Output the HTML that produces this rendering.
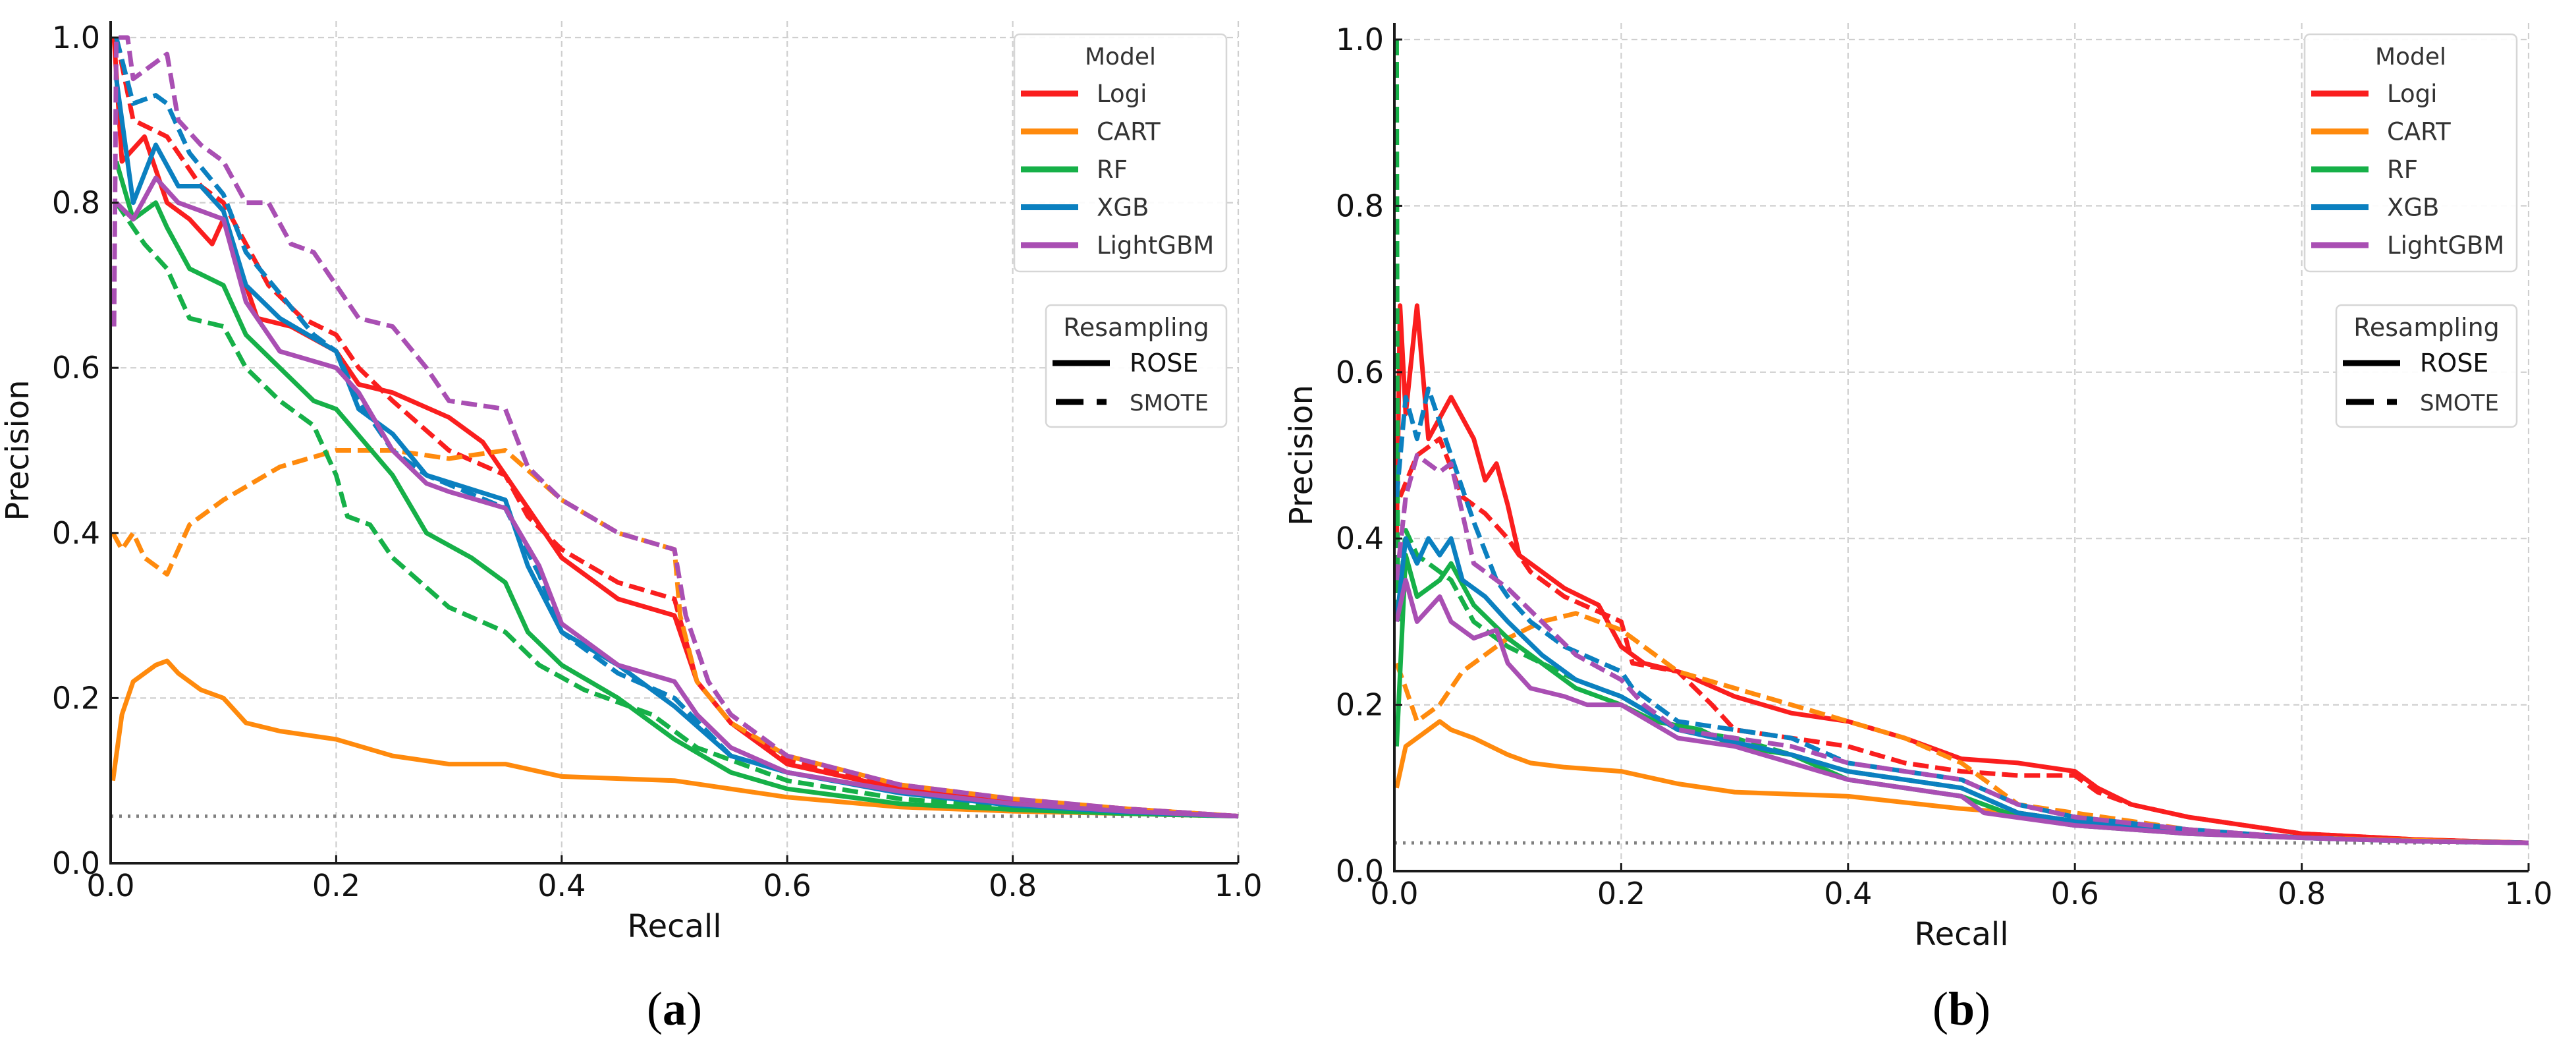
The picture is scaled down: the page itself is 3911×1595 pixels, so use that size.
<!DOCTYPE html>
<html><head><meta charset="utf-8">
<style>
html,body{margin:0;padding:0;background:#fff;}
svg{display:block;font-family:"DejaVu Sans","Liberation Sans",sans-serif;}
</style></head>
<body>
<svg id="fig" width="3911" height="1595" viewBox="0 0 3911 1595" xmlns="http://www.w3.org/2000/svg"></svg>
<script>
// ---------- data ----------
const xTicks = [0, 0.2, 0.4, 0.6, 0.8, 1.0];
const yTicks = [0, 0.2, 0.4, 0.6, 0.8, 1.0];
const tickLabels = ["0.0","0.2","0.4","0.6","0.8","1.0"];
const models = ["Logi","CART","RF","XGB","LightGBM"];
const modelColors = ["#fa1e1e","#ff8a0d","#16b048","#0b80c0","#a94fb3"];
const baselineA = 0.057;
const baselineB = 0.034;

// Panel (a) [recall, precision]
const aLogiRose = [[0.003,1.0],[0.01,0.85],[0.03,0.88],[0.05,0.8],[0.07,0.78],[0.09,0.75],[0.1,0.78],[0.12,0.7],[0.13,0.66],[0.16,0.65],[0.2,0.62],[0.22,0.58],[0.25,0.57],[0.3,0.54],[0.33,0.51],[0.36,0.45],[0.4,0.37],[0.45,0.32],[0.5,0.3],[0.52,0.22],[0.55,0.17],[0.6,0.12],[0.7,0.09],[0.8,0.075],[0.9,0.065],[1.0,0.057]];
const aLogiSmote = [[0.005,1.0],[0.02,0.9],[0.05,0.88],[0.08,0.82],[0.1,0.8],[0.12,0.75],[0.14,0.7],[0.17,0.66],[0.2,0.64],[0.22,0.6],[0.25,0.56],[0.3,0.5],[0.35,0.47],[0.37,0.42],[0.4,0.38],[0.45,0.34],[0.5,0.32],[0.52,0.22],[0.55,0.17],[0.6,0.125],[0.7,0.095],[0.8,0.077],[0.9,0.066],[1.0,0.057]];
const aCartRose = [[0.002,0.1],[0.01,0.18],[0.02,0.22],[0.04,0.24],[0.05,0.245],[0.06,0.23],[0.08,0.21],[0.1,0.2],[0.12,0.17],[0.15,0.16],[0.2,0.15],[0.25,0.13],[0.3,0.12],[0.35,0.12],[0.4,0.105],[0.5,0.1],[0.6,0.08],[0.7,0.068],[0.8,0.063],[0.9,0.06],[1.0,0.057]];
const aCartSmote = [[0.002,0.4],[0.01,0.38],[0.02,0.4],[0.03,0.37],[0.05,0.35],[0.07,0.41],[0.1,0.44],[0.15,0.48],[0.2,0.5],[0.25,0.5],[0.3,0.49],[0.35,0.5],[0.4,0.44],[0.45,0.4],[0.5,0.38],[0.505,0.3],[0.52,0.22],[0.55,0.17],[0.6,0.13],[0.7,0.095],[0.8,0.078],[0.9,0.066],[1.0,0.057]];
const aRfRose = [[0.005,0.85],[0.02,0.78],[0.04,0.8],[0.05,0.77],[0.07,0.72],[0.1,0.7],[0.12,0.64],[0.15,0.6],[0.18,0.56],[0.2,0.55],[0.25,0.47],[0.28,0.4],[0.32,0.37],[0.35,0.34],[0.37,0.28],[0.4,0.24],[0.45,0.2],[0.5,0.15],[0.55,0.11],[0.6,0.09],[0.7,0.072],[0.8,0.065],[0.9,0.06],[1.0,0.057]];
const aRfSmote = [[0.005,0.8],[0.03,0.75],[0.05,0.72],[0.07,0.66],[0.1,0.65],[0.12,0.6],[0.15,0.56],[0.18,0.53],[0.2,0.47],[0.21,0.42],[0.23,0.41],[0.25,0.37],[0.3,0.31],[0.35,0.28],[0.38,0.24],[0.42,0.21],[0.48,0.18],[0.52,0.14],[0.6,0.1],[0.7,0.078],[0.8,0.068],[0.9,0.061],[1.0,0.057]];
const aXgbRose = [[0.005,0.95],[0.02,0.8],[0.04,0.87],[0.06,0.82],[0.08,0.82],[0.1,0.79],[0.12,0.7],[0.15,0.66],[0.2,0.62],[0.22,0.55],[0.25,0.52],[0.28,0.47],[0.35,0.44],[0.37,0.36],[0.4,0.28],[0.45,0.24],[0.5,0.19],[0.55,0.13],[0.6,0.11],[0.7,0.085],[0.8,0.07],[0.9,0.062],[1.0,0.057]];
const aXgbSmote = [[0.005,1.0],[0.02,0.92],[0.04,0.93],[0.05,0.92],[0.07,0.86],[0.1,0.81],[0.12,0.74],[0.15,0.69],[0.18,0.64],[0.2,0.62],[0.22,0.56],[0.25,0.5],[0.28,0.47],[0.35,0.43],[0.38,0.35],[0.4,0.28],[0.45,0.23],[0.5,0.2],[0.55,0.13],[0.6,0.11],[0.7,0.086],[0.8,0.071],[0.9,0.062],[1.0,0.057]];
const aLgbmRose = [[0.005,0.8],[0.02,0.78],[0.04,0.83],[0.06,0.8],[0.08,0.79],[0.1,0.78],[0.12,0.68],[0.15,0.62],[0.2,0.6],[0.22,0.57],[0.25,0.5],[0.28,0.46],[0.3,0.45],[0.35,0.43],[0.38,0.36],[0.4,0.29],[0.45,0.24],[0.5,0.22],[0.52,0.18],[0.55,0.14],[0.6,0.11],[0.7,0.087],[0.8,0.072],[0.9,0.063],[1.0,0.057]];
const aLgbmSmote = [[0.003,0.65],[0.005,1.0],[0.015,1.0],[0.02,0.95],[0.05,0.98],[0.06,0.9],[0.08,0.87],[0.1,0.85],[0.12,0.8],[0.14,0.8],[0.16,0.75],[0.18,0.74],[0.2,0.7],[0.22,0.66],[0.25,0.65],[0.28,0.6],[0.3,0.56],[0.35,0.55],[0.37,0.48],[0.4,0.44],[0.45,0.4],[0.5,0.38],[0.51,0.3],[0.53,0.22],[0.55,0.18],[0.6,0.13],[0.7,0.095],[0.8,0.078],[0.9,0.066],[1.0,0.057]];

// Panel (b)
const bLogiRose = [[0.002,0.4],[0.005,0.68],[0.01,0.55],[0.02,0.68],[0.03,0.52],[0.05,0.57],[0.07,0.52],[0.08,0.47],[0.09,0.49],[0.1,0.44],[0.11,0.38],[0.13,0.36],[0.15,0.34],[0.18,0.32],[0.2,0.27],[0.22,0.25],[0.25,0.24],[0.3,0.21],[0.35,0.19],[0.4,0.18],[0.45,0.16],[0.5,0.135],[0.55,0.13],[0.6,0.12],[0.62,0.1],[0.65,0.08],[0.7,0.065],[0.8,0.045],[0.9,0.038],[1.0,0.034]];
const bLogiSmote = [[0.005,0.45],[0.02,0.5],[0.04,0.52],[0.06,0.45],[0.08,0.43],[0.1,0.4],[0.12,0.36],[0.15,0.33],[0.2,0.3],[0.21,0.25],[0.25,0.24],[0.28,0.2],[0.3,0.17],[0.35,0.16],[0.4,0.15],[0.45,0.13],[0.5,0.12],[0.55,0.115],[0.6,0.115],[0.62,0.095],[0.65,0.08],[0.7,0.065],[0.8,0.045],[0.9,0.038],[1.0,0.034]];
const bCartRose = [[0.002,0.1],[0.01,0.15],[0.02,0.16],[0.04,0.18],[0.05,0.17],[0.07,0.16],[0.1,0.14],[0.12,0.13],[0.15,0.125],[0.2,0.12],[0.25,0.105],[0.3,0.095],[0.4,0.09],[0.5,0.075],[0.55,0.07],[0.6,0.06],[0.7,0.048],[0.8,0.04],[0.9,0.037],[1.0,0.034]];
const bCartSmote = [[0.002,0.25],[0.01,0.22],[0.02,0.18],[0.04,0.2],[0.06,0.24],[0.1,0.28],[0.13,0.3],[0.16,0.31],[0.2,0.29],[0.25,0.24],[0.3,0.22],[0.35,0.2],[0.4,0.18],[0.45,0.16],[0.5,0.13],[0.55,0.08],[0.6,0.07],[0.7,0.05],[0.8,0.04],[0.9,0.037],[1.0,0.034]];
const bRfRose = [[0.002,0.15],[0.01,0.38],[0.02,0.33],[0.04,0.35],[0.05,0.37],[0.07,0.32],[0.1,0.28],[0.13,0.25],[0.16,0.22],[0.2,0.2],[0.23,0.18],[0.27,0.17],[0.3,0.15],[0.35,0.14],[0.4,0.11],[0.45,0.1],[0.5,0.09],[0.55,0.065],[0.6,0.055],[0.7,0.045],[0.8,0.04],[0.9,0.036],[1.0,0.034]];
const bRfSmote = [[0.002,1.0],[0.003,0.3],[0.01,0.41],[0.02,0.38],[0.04,0.36],[0.05,0.35],[0.07,0.3],[0.1,0.27],[0.13,0.25],[0.16,0.23],[0.2,0.21],[0.25,0.17],[0.3,0.16],[0.35,0.14],[0.4,0.12],[0.5,0.1],[0.55,0.07],[0.6,0.06],[0.7,0.047],[0.8,0.04],[0.9,0.036],[1.0,0.034]];
const bXgbRose = [[0.002,0.3],[0.01,0.4],[0.02,0.37],[0.03,0.4],[0.04,0.38],[0.05,0.4],[0.06,0.35],[0.08,0.33],[0.1,0.3],[0.13,0.26],[0.16,0.23],[0.2,0.21],[0.25,0.17],[0.3,0.155],[0.35,0.14],[0.4,0.12],[0.5,0.1],[0.55,0.07],[0.6,0.06],[0.7,0.048],[0.8,0.04],[0.9,0.036],[1.0,0.034]];
const bXgbSmote = [[0.002,0.45],[0.01,0.57],[0.02,0.52],[0.03,0.58],[0.05,0.5],[0.07,0.42],[0.09,0.35],[0.1,0.33],[0.12,0.3],[0.15,0.27],[0.2,0.24],[0.21,0.22],[0.25,0.18],[0.3,0.17],[0.35,0.16],[0.4,0.13],[0.5,0.11],[0.55,0.08],[0.6,0.065],[0.7,0.05],[0.8,0.04],[0.9,0.036],[1.0,0.034]];
const bLgbmRose = [[0.002,0.3],[0.01,0.35],[0.02,0.3],[0.04,0.33],[0.05,0.3],[0.07,0.28],[0.09,0.29],[0.1,0.25],[0.12,0.22],[0.15,0.21],[0.17,0.2],[0.2,0.2],[0.25,0.16],[0.3,0.15],[0.35,0.13],[0.4,0.11],[0.5,0.09],[0.52,0.07],[0.6,0.055],[0.7,0.045],[0.8,0.04],[0.9,0.036],[1.0,0.034]];
const bLgbmSmote = [[0.002,0.35],[0.01,0.45],[0.02,0.5],[0.04,0.48],[0.05,0.49],[0.06,0.43],[0.07,0.37],[0.1,0.34],[0.13,0.3],[0.16,0.26],[0.2,0.23],[0.22,0.2],[0.25,0.17],[0.3,0.16],[0.35,0.15],[0.4,0.13],[0.45,0.12],[0.5,0.11],[0.55,0.08],[0.6,0.065],[0.7,0.05],[0.8,0.04],[0.9,0.036],[1.0,0.034]];

const seriesA = [[aLogiRose,aLogiSmote],[aCartRose,aCartSmote],[aRfRose,aRfSmote],[aXgbRose,aXgbSmote],[aLgbmRose,aLgbmSmote]];
const seriesB = [[bLogiRose,bLogiSmote],[bCartRose,bCartSmote],[bRfRose,bRfSmote],[bXgbRose,bXgbSmote],[bLgbmRose,bLgbmSmote]];

// ---------- drawing ----------
const NS = "http://www.w3.org/2000/svg";
const svg = document.getElementById("fig");
function mk(tag, attrs, parent){
  const e = document.createElementNS(NS, tag);
  for (const k in attrs) e.setAttribute(k, attrs[k]);
  (parent||svg).appendChild(e);
  return e;
}

function panel(cfg){
  const g = mk("g", {});
  
  
  const X = v => cfg.x0 + v*(cfg.x1-cfg.x0);
  const Y = v => cfg.y0 - v*(cfg.y0-cfg.y1);
  xTicks.forEach(t => {
    const l = mk("line",{x1:X(t),x2:X(t),y1:cfg.y1-25,y2:cfg.y0,stroke:"#cfcfcf","stroke-width":2.2,"stroke-dasharray":"9 6"},g);
    
    
  });
  yTicks.forEach(t => {
    const l = mk("line",{x1:cfg.x0,x2:cfg.x1,y1:Y(t),y2:Y(t),stroke:"#cfcfcf","stroke-width":2.2,"stroke-dasharray":"9 6"},g);
    
    
  });
  const bl = mk("line",{x1:X(0),x2:X(1),y1:Y(cfg.base),y2:Y(cfg.base),stroke:"#808080","stroke-width":5,"stroke-dasharray":"4 9"},g);
  
  
  cfg.series.forEach((pair, mi) => {
    pair.forEach((pts, si) => {
      const d = pts.map((p,i)=>(i?"L":"M")+X(p[0]).toFixed(1)+" "+Y(p[1]).toFixed(1)).join(" ");
      const attrs = {d:d,fill:"none",stroke:modelColors[mi],"stroke-width":7,"stroke-linejoin":"round"};
      if (si===1) attrs["stroke-dasharray"]="24 10";
      const p = mk("path",attrs,g);
      
      
    });
  });
  const sp = mk("path",{d:`M${cfg.x0} ${cfg.y1-25} L${cfg.x0} ${cfg.y0} L${cfg.x1} ${cfg.y0}`,fill:"none",stroke:"#1a1a1a","stroke-width":4},g);
  
  
  xTicks.forEach((t,i) => {
    mk("line",{x1:X(t),x2:X(t),y1:cfg.y0,y2:cfg.y0-12,stroke:"#1a1a1a","stroke-width":3},g);
    const tx = mk("text",{x:X(t),y:cfg.y0+50,"font-size":46,"text-anchor":"middle",fill:"#111"},g);
    tx.textContent = tickLabels[i];
    
    
  });
  yTicks.forEach((t,i) => {
    mk("line",{x1:cfg.x0,x2:cfg.x0+12,y1:Y(t),y2:Y(t),stroke:"#1a1a1a","stroke-width":3},g);
    const ty = mk("text",{x:cfg.x0-16,y:Y(t)+16,"font-size":46,"text-anchor":"end",fill:"#111"},g);
    ty.textContent = tickLabels[i];
    
    
  });
  const xl = mk("text",{x:(cfg.x0+cfg.x1)/2,y:cfg.y0+112,"font-size":48,"text-anchor":"middle",fill:"#111"},g);
  xl.textContent="Recall";
  
  
  const yx = cfg.x0-125, yy=(cfg.y0+cfg.y1)/2;
  const yl = mk("text",{x:yx,y:yy,"font-size":48,"text-anchor":"middle",fill:"#111",transform:`rotate(-90 ${yx} ${yy})`},g);
  yl.textContent="Precision";
  
  
  const cap = mk("text",{x:(cfg.x0+cfg.x1)/2,y:1555,"font-size":72,"text-anchor":"middle",fill:"#000","font-family":"'Liberation Serif',serif"},g);
  cap.innerHTML = '(<tspan font-weight="bold">'+cfg.id+'</tspan>)';
  
  

  const L = cfg.x1 - 340;
  const lg = mk("g",{},g);
  
  
  mk("rect",{x:L,y:52,width:322,height:360,rx:8,fill:"#fff","fill-opacity":0.9,stroke:"#d6d6d6","stroke-width":2.5},lg);
  const mt = mk("text",{x:L+161,y:98,"font-size":36,"text-anchor":"middle",fill:"#333"},lg);
  mt.textContent="Model";
  models.forEach((m,i) => {
    const yy2 = 142 + i*57.5;
    mk("line",{x1:L+10,x2:L+97,y1:yy2,y2:yy2,stroke:modelColors[i],"stroke-width":9},lg);
    const t = mk("text",{x:L+125,y:yy2+13,"font-size":37,fill:"#333"},lg);
    t.textContent=m;
    
    
  });
  const R = cfg.x1 - 292;
  const rg = mk("g",{},g);
  
  
  mk("rect",{x:R,y:463,width:274,height:185,rx:8,fill:"#fff","fill-opacity":0.9,stroke:"#d6d6d6","stroke-width":2.5},rg);
  const rt = mk("text",{x:R+137,y:510,"font-size":38,"text-anchor":"middle",fill:"#333"},rg);
  rt.textContent="Resampling";
  mk("line",{x1:R+10,x2:R+97,y1:551,y2:551,stroke:"#000","stroke-width":9},rg);
  const r1 = mk("text",{x:R+127,y:564,"font-size":38,fill:"#111"},rg);
  r1.textContent="ROSE";
  
  
  mk("line",{x1:R+15,x2:R+92,y1:610,y2:610,stroke:"#000","stroke-width":9,"stroke-dasharray":"42 20"},rg);
  const r2 = mk("text",{x:R+127,y:623,"font-size":34,fill:"#333"},rg);
  r2.textContent="SMOTE";
  
  
}

panel({id:"a", x0:168, x1:1880, y0:1310, y1:57, base:baselineA, series:seriesA});
panel({id:"b", x0:2117, x1:3839, y0:1322, y1:60, base:baselineB, series:seriesB});
</script>
</body></html>
